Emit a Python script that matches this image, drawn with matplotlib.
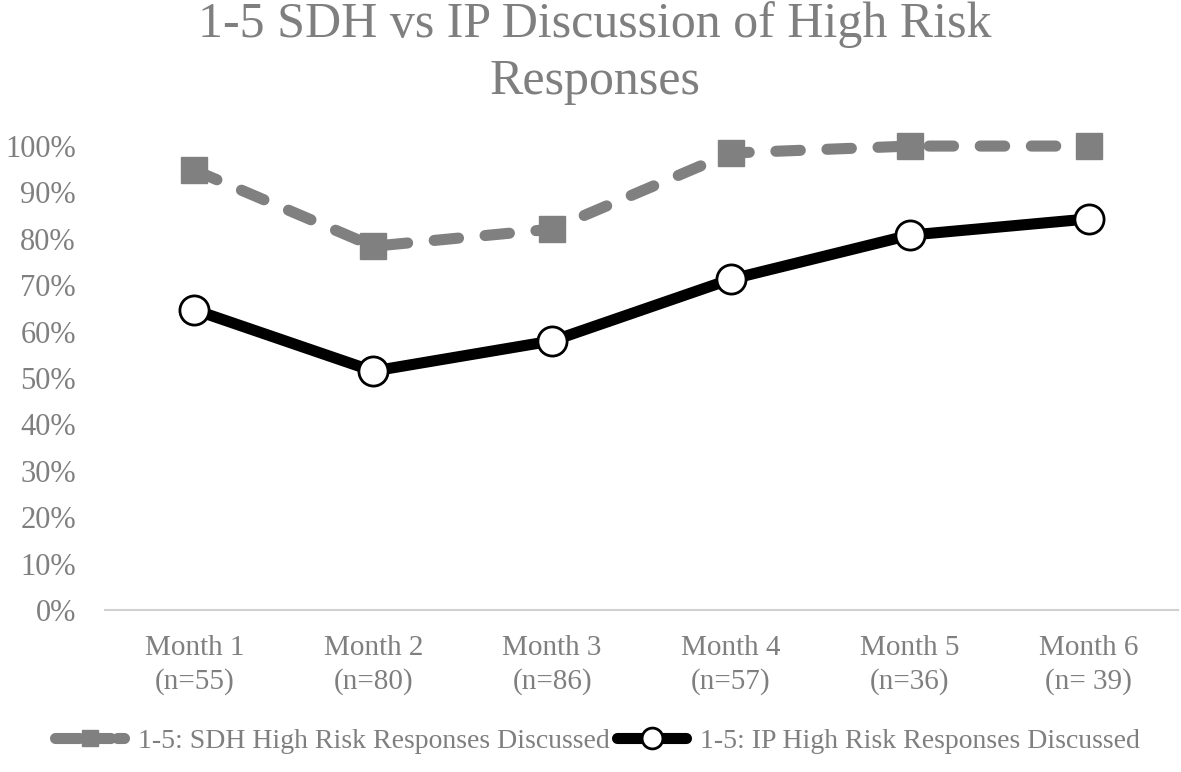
import matplotlib
matplotlib.use("Agg")
import matplotlib.pyplot as plt
from matplotlib.lines import Line2D

# data
months = ["Month 1\n(n=55)", "Month 2\n(n=80)", "Month 3\n(n=86)",
          "Month 4\n(n=57)", "Month 5\n(n=36)", "Month 6\n(n= 39)"]
sdh = [0.948, 0.784, 0.821, 0.985, 1.0, 1.0]
ip = [0.647, 0.515, 0.580, 0.713, 0.808, 0.843]
yticks = [i / 10 for i in range(11)]

plt.rcParams['font.family'] = ['Liberation Serif', 'DejaVu Serif']
gray_txt = '#7f7f7f'
sdh_col = '#808080'

fig = plt.figure(figsize=(11.81, 7.72), dpi=100)
ax = fig.add_axes([0.0889, 0.2098, 0.9086, 0.601])

x = list(range(len(months)))
ax.plot(x, sdh, color=sdh_col, lw=8, dashes=(2.2, 2.4), dash_capstyle='round',
        marker='s', ms=19, mfc=sdh_col, mec=sdh_col, clip_on=False, zorder=3)
ax.plot(x, ip, color='black', lw=8, solid_capstyle='round',
        marker='o', ms=21, mfc='white', mec='black', mew=2, clip_on=False, zorder=4)

ax.set_xlim(-0.5, len(months) - 0.5)
ax.set_ylim(0, 1)
ax.set_yticks(yticks)
ax.set_yticklabels([f"{int(round(v * 100))}%" for v in yticks], fontsize=22, color=gray_txt)
ax.set_xticks(x)
ax.set_xticklabels(months, fontsize=21, color=gray_txt, linespacing=1.35)
ax.tick_params(axis='x', length=0, pad=18)
ax.tick_params(axis='y', length=0, pad=21)
for s in ['top', 'right', 'left']:
    ax.spines[s].set_visible(False)
ax.spines['bottom'].set_color('#d0d0d0')
ax.spines['bottom'].set_linewidth(1.5)

fig.text(0.504, 0.999, "1-5 SDH vs IP Discussion of High Risk\nResponses",
         ha='center', va='top', fontsize=36, color=gray_txt, linespacing=1.3)

h1 = Line2D([], [], color=sdh_col, lw=8, dashes=(2.2, 0.6), dash_capstyle='round',
            marker='s', ms=12, mfc=sdh_col, mec=sdh_col)
h2 = Line2D([], [], color='black', lw=8, solid_capstyle='round',
            marker='o', ms=15, mfc='white', mec='black', mew=2)
fig.legend([h1, h2], ["1-5: SDH High Risk Responses Discussed",
                      "1-5: IP High Risk Responses Discussed"],
           loc='center', bbox_to_anchor=(0.506, 0.04), ncol=2, frameon=False,
           fontsize=20, labelcolor=gray_txt, handlelength=2.5, handletextpad=0.5,
           columnspacing=0.25, borderpad=0)

fig.savefig("out.png", dpi=100)
